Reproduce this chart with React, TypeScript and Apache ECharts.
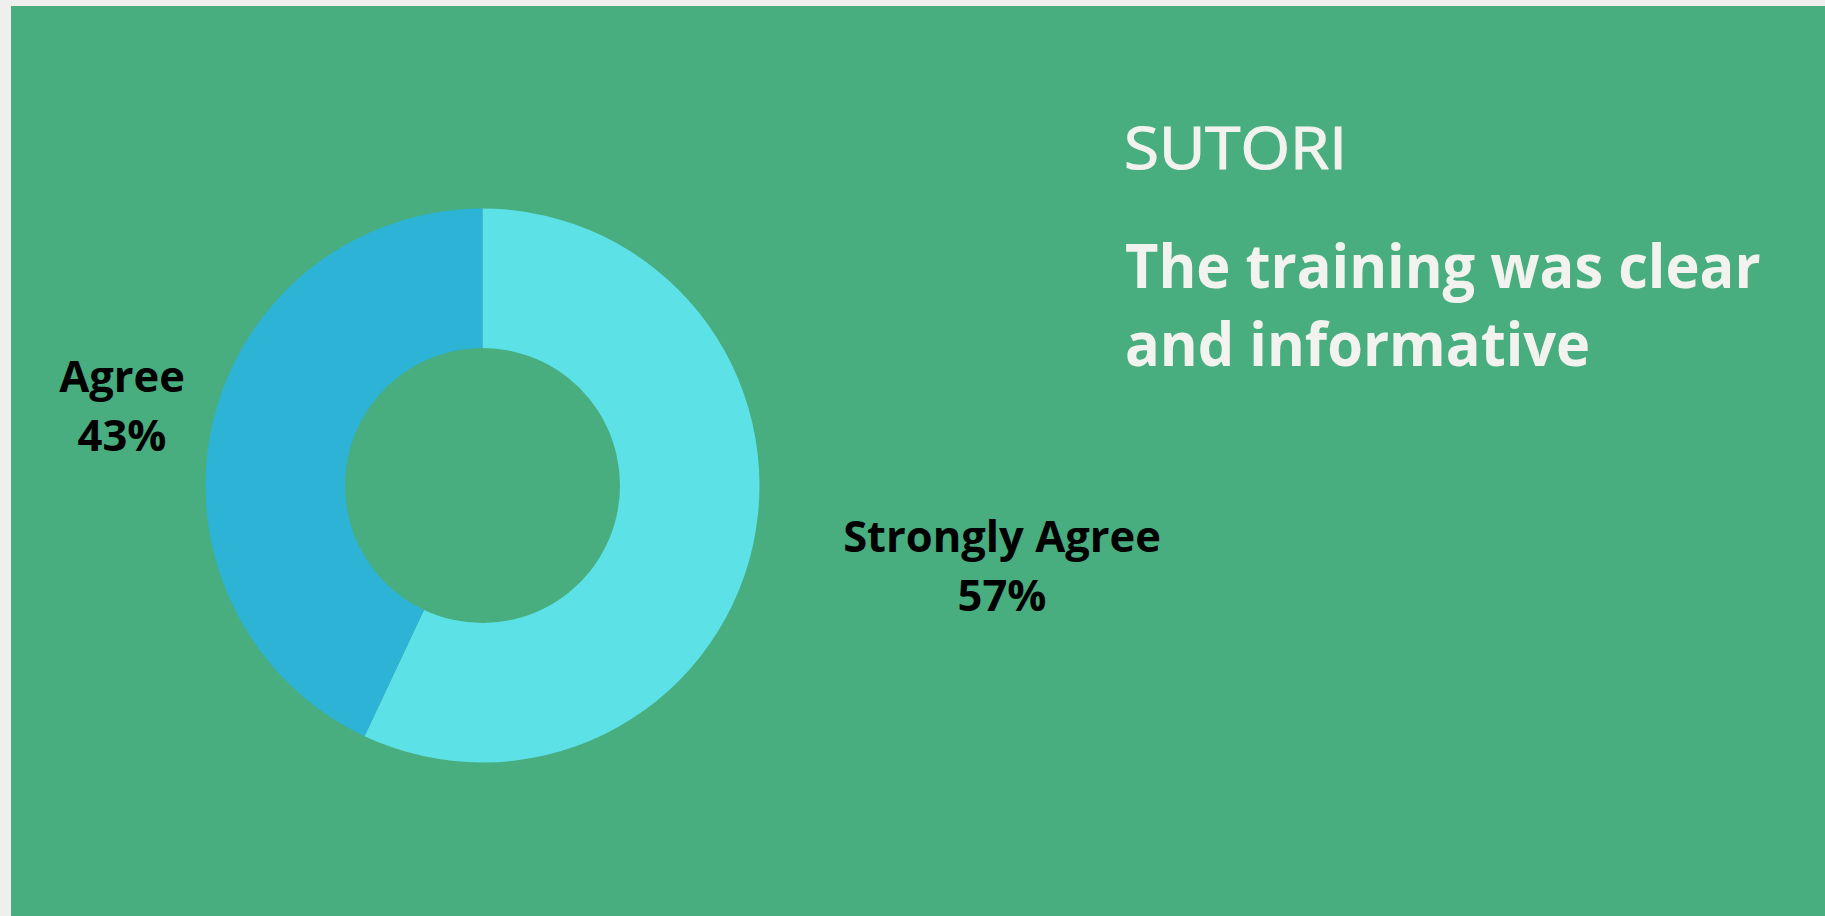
import React, { useEffect, useRef } from "react";
import * as echarts from "echarts";

const categories = ["Strongly Agree", "Agree"];
const values = [57, 43];
const sliceColors = ["#5CE1E6", "#2CB3D5"];
const titleBrand = "SUTORI";
const questionLines = ["The training was clear", "and informative"];

export default function App() {
  const ref = useRef<HTMLDivElement>(null);

  useEffect(() => {
    if (!ref.current) return;
    document.body.style.margin = "0";
    const chart = echarts.init(ref.current, null, { renderer: "svg" });
    const labelPos = [
      { x: 1002, y: 565 },
      { x: 122, y: 405 },
    ];
    const option: any = {
      animation: false,
      backgroundColor: "#EFEFED",
      graphic: [
        {
          type: "rect",
          z: -10,
          shape: { x: 11, y: 6, width: 1825 - 11, height: 916 - 6 },
          style: { fill: "#48AE7F" },
        },
        {
          type: "group",
          x: 1124,
          y: 146,
          scaleX: 1.08,
          children: [
            {
              type: "text",
              x: 0,
              y: 0,
              style: {
                text: titleBrand,
                fill: "#F2F2EE",
                font: 'normal 59px "Open Sans"',
                align: "left",
                verticalAlign: "middle",
                stroke: "#F2F2EE",
                lineWidth: 1.2,
              },
            },
          ],
        },
        {
          type: "group",
          x: 1125,
          y: 265,
          scaleX: 0.962,
          children: [
            {
              type: "text",
              x: 0,
              y: 0,
              style: {
                text: questionLines[0],
                fill: "#F2F2EE",
                font: 'bold 60px "Open Sans"',
                align: "left",
                verticalAlign: "middle",
              },
            },
          ],
        },
        {
          type: "group",
          x: 1125,
          y: 343,
          scaleX: 0.962,
          children: [
            {
              type: "text",
              x: 0,
              y: 0,
              style: {
                text: questionLines[1],
                fill: "#F2F2EE",
                font: 'bold 60px "Open Sans"',
                align: "left",
                verticalAlign: "middle",
              },
            },
          ],
        },
      ],
      series: [
        {
          type: "pie",
          center: [482.5, 485.5],
          radius: [137.5, 277],
          startAngle: 90,
          clockwise: true,
          silent: true,
          data: categories.map((name, i) => ({
            name,
            value: values[i],
            itemStyle: { color: sliceColors[i] },
          })),
          label: {
            show: true,
            position: "outside",
            formatter: (p: any) => `${p.name}\n${p.value}%`,
            color: "#000000",
            fontFamily: "Open Sans",
            fontWeight: "bold",
            fontSize: 43.5,
            lineHeight: 59,
          },
          labelLine: { show: false },
          labelLayout: (params: any) => ({
            x: labelPos[params.dataIndex].x,
            y: labelPos[params.dataIndex].y,
            align: "center",
            verticalAlign: "middle",
          }),
        },
      ],
    };
    chart.setOption(option);
    return () => chart.dispose();
  }, []);

  return (
    <div
      ref={ref}
      style={{ position: "fixed", left: 0, top: 0, width: 1825, height: 916 }}
    />
  );
}
